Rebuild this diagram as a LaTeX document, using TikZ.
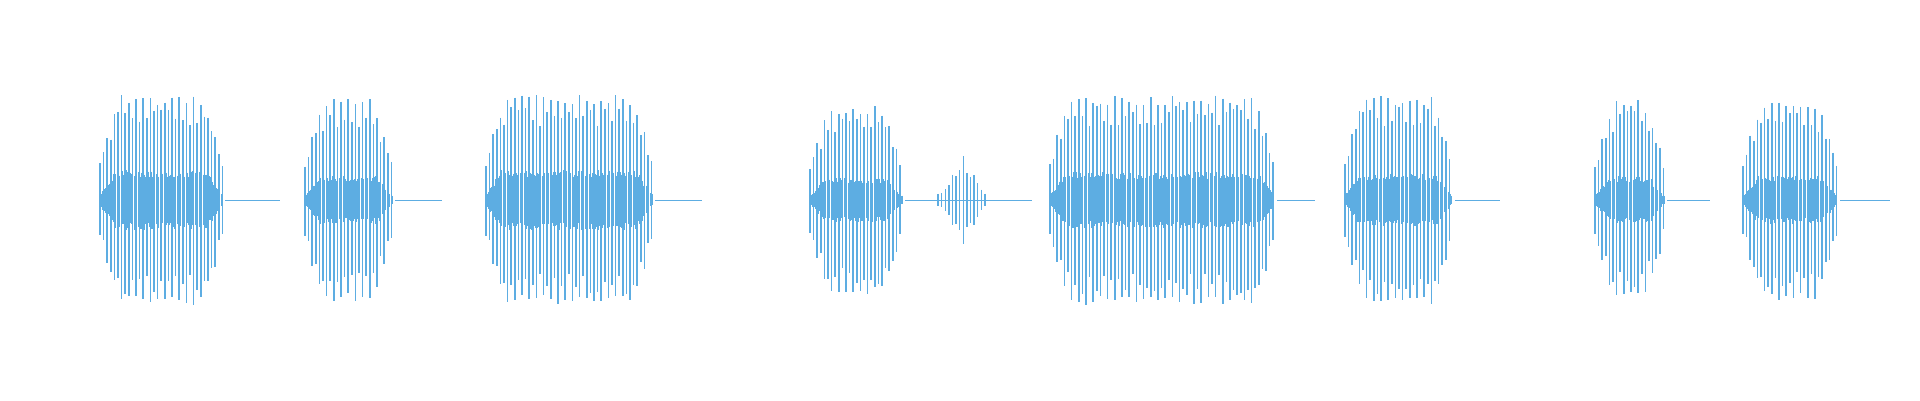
\documentclass[tikz,border=0pt]{standalone}
\definecolor{wav}{RGB}{93,173,226}
\newcommand\wburst[5]{%
  % #1 x0, #2 x1, #3 tail end, #4 amplitude, #5 core
  \draw[wav,line width=1pt] (#2,200) -- (#3,200);
  \foreach \i in {0,...,250}{
    \pgfmathsetmacro\xx{#1+2+\i*1.3}
    \pgfmathparse{\xx<#2-2?1:0}
    \ifnum\pgfmathresult=1
      \pgfmathsetmacro\env{max(0.2,min(1,(\xx-#1)/18,(#2-\xx)/18))}
      \pgfmathsetmacro\aa{#5*\env*(0.75+0.25*rnd)}
      \pgfmathsetmacro\bb{#5*\env*(0.75+0.25*rnd)}
      \draw[wav,line width=1pt] (\xx,200-\aa) -- (\xx,200+\bb);
    \fi
  }
  \foreach \i in {0,...,120}{
    \pgfmathsetmacro\xx{#1+3+\i*3.6}
    \pgfmathparse{\xx<#2-2?1:0}
    \ifnum\pgfmathresult=1
      \pgfmathsetmacro\env{max(0.1,min(1,(\xx-#1)/24,(#2-\xx)/24))}
      \pgfmathsetmacro\odd{mod(\i,2)}
      \pgfmathsetmacro\aa{#4*sqrt(\env)*(\odd<0.5 ? (0.9+0.1*rnd) : (0.7+0.2*rnd))}
      \pgfmathsetmacro\bb{#4*sqrt(\env)*(\odd<0.5 ? (0.9+0.1*rnd) : (0.7+0.2*rnd))}
      \draw[wav,line width=1.5pt] (\xx,200-\aa) -- (\xx,200+\bb);
    \fi
  }
}
\begin{document}
\begin{tikzpicture}[x=1pt,y=-1pt]
\pgfmathsetseed{7}
\useasboundingbox (0,0) rectangle (1920,400);
\wburst{97}{225}{280}{105}{30}
\wburst{302}{395}{442}{103}{24}
\wburst{483}{655}{702}{105}{30}
\wburst{807}{905}{1032}{95}{22}
\foreach \i in {0,...,13}{
  \pgfmathsetmacro\xx{938+\i*3.6}
  \pgfmathsetmacro\env{max(0.15,1-abs(\xx-963)/26)}
  \pgfmathsetmacro\aa{44*\env*(0.7+0.3*rnd)}
  \draw[wav,line width=1.4pt] (\xx,200-\aa) -- (\xx,200+\aa);
}
\wburst{1047}{1277}{1315}{105}{28}
\wburst{1342}{1455}{1500}{105}{26}
\wburst{1592}{1667}{1710}{100}{24}
\wburst{1740}{1840}{1890}{100}{24}
\end{tikzpicture}
\end{document}
